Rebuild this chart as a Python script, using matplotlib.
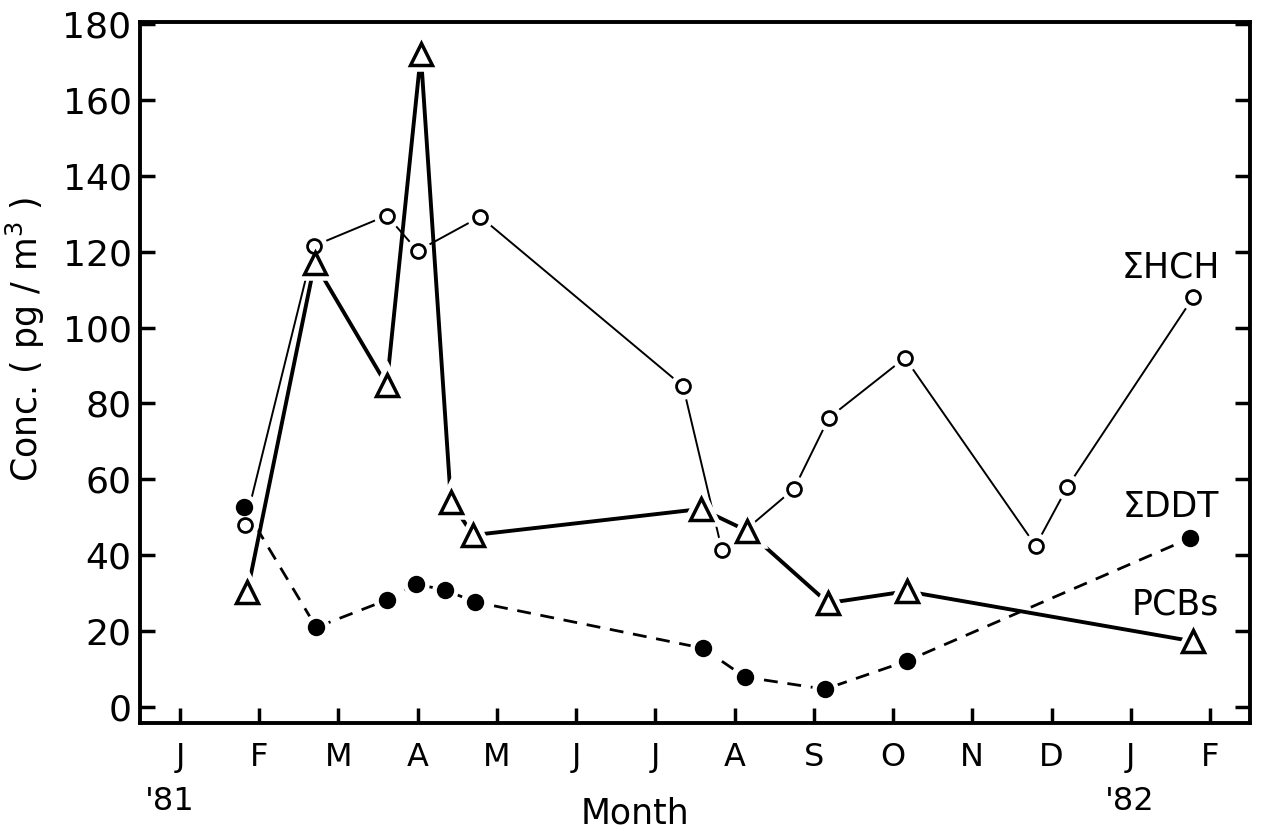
import matplotlib
matplotlib.use('Agg')
import matplotlib.pyplot as plt

# month index: 0 = Jan '81 ... 13 = Feb '82
months = ['J', 'F', 'M', 'A', 'M', 'J', 'J', 'A', 'S', 'O', 'N', 'D', 'J', 'F']

hch_x = [0.82, 1.69, 2.61, 3.00, 3.79, 6.35, 6.84, 7.75, 8.19, 9.15, 10.80, 11.20, 12.79]
hch_y = [48, 121.5, 129.5, 120.2, 129.2, 84.5, 41.4, 57.5, 76.2, 92, 42.5, 58, 108]

ddt_x = [0.85, 1.70, 2.61, 3.04, 3.42, 3.70, 6.58, 7.16, 8.18, 9.17, 12.79]
ddt_y = [30.3, 117, 84.8, 172, 54, 45.3, 52.2, 46.4, 27.4, 30.5, 17.3]

pcb_x = [0.81, 1.72, 2.61, 2.98, 3.35, 3.72, 6.60, 7.13, 8.14, 9.17, 12.75]
pcb_y = [52.7, 21, 28.2, 32.4, 30.8, 27.7, 15.5, 7.9, 4.7, 12.1, 44.5]

series_labels = ['\u03a3HCH', '\u03a3DDT', 'PCBs']

plt.rcParams['font.family'] = 'DejaVu Sans'

fig = plt.figure(figsize=(12.62, 8.31), dpi=100)
ax = fig.add_axes([0.1109, 0.1300, 0.8796, 0.8435])

# connecting lines first, markers on top with a white halo so lines stop short
ax.plot(hch_x, hch_y, color='black', lw=1.4, zorder=2)
ax.plot(ddt_x, ddt_y, color='black', lw=2.8, zorder=2)
ax.plot(pcb_x, pcb_y, color='black', lw=2.0, dashes=(5, 3.5), zorder=2)

ax.plot(hch_x, hch_y, ls='none', marker='o', ms=10, mfc='white', mec='white', mew=9, zorder=3)
ax.plot(ddt_x, ddt_y, ls='none', marker='^', ms=16, mfc='white', mec='white', mew=9, zorder=3)
ax.plot(pcb_x, pcb_y, ls='none', marker='o', ms=11, mfc='white', mec='white', mew=8, zorder=3)

ax.plot(hch_x, hch_y, ls='none', marker='o', ms=10, mfc='white', mec='black', mew=2.0, zorder=4)
ax.plot(ddt_x, ddt_y, ls='none', marker='^', ms=16, mfc='white', mec='black', mew=2.5, zorder=4)
ax.plot(pcb_x, pcb_y, ls='none', marker='o', ms=11, mfc='black', mec='black', mew=1.5, zorder=5)

ax.text(12.5, 115.7, series_labels[0], fontsize=25, ha='center', va='center')
ax.text(12.5, 52.7, series_labels[1], fontsize=25, ha='center', va='center')
ax.text(12.56, 26.9, series_labels[2], fontsize=25, ha='center', va='center')

ax.set_xlim(-0.505, 13.505)
ax.set_ylim(-4.2, 180.5)

ax.set_yticks(range(0, 181, 20))
ax.set_xticks(range(len(months)))
ax.set_xticklabels(months)
ax.tick_params(axis='both', direction='in', length=11, width=2.5, labelsize=26)
ax.tick_params(axis='y', right=True, pad=6)
ax.tick_params(axis='x', pad=14, labelsize=23)
for s in ax.spines.values():
    s.set_linewidth(2.8)

ax.set_ylabel('Conc. ( pg / m$^3$ )', fontsize=25)
ax.yaxis.set_label_coords(-0.084, 0.548)
fig.text(0.1347, 1 - 802 / 831, "'81", fontsize=23, ha='center', va='center')
fig.text(1130 / 1262, 1 - 802 / 831, "'82", fontsize=23, ha='center', va='center')
fig.text(635 / 1262, 1 - 813 / 831, 'Month', fontsize=25, ha='center', va='center')

fig.savefig('out.png', dpi=100)
